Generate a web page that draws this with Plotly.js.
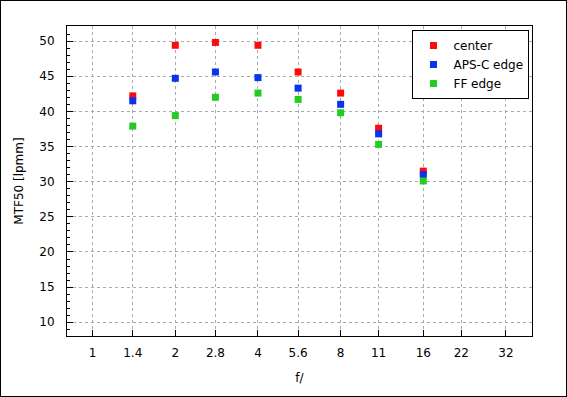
<!DOCTYPE html>
<html>
<head>
<meta charset="utf-8">
<script src="https://cdn.plot.ly/plotly-3.0.1.min.js"></script>
<style>
  body { margin: 0; padding: 0; background: #fff; }
  #wrap { position: relative; width: 567px; height: 397px; }
  #chart { position: absolute; left: 0; top: 0; width: 567px; height: 397px; }
  #border { position: absolute; left: 0; top: 0; width: 565px; height: 395px; border: 1px solid #000; pointer-events: none; }
</style>
</head>
<body>
<div id="wrap"><div id="chart"></div><div id="border"></div></div>
<script>
const fStops = [1.4, 2, 2.8, 4, 5.6, 8, 11, 16];
const tickValues = [1, 1.4, 2, 2.8, 4, 5.6, 8, 11, 16, 22, 32];
const tickLabels = ['1', '1.4', '2', '2.8', '4', '5.6', '8', '11', '16', '22', '32'];
const centerVals = [42.2, 49.4, 49.8, 49.4, 45.6, 42.6, 37.6, 31.5];
const apscVals   = [41.5, 44.7, 45.6, 44.8, 43.3, 41.0, 36.8, 31.0];
const ffVals     = [37.9, 39.4, 42.0, 42.6, 41.7, 39.8, 35.3, 30.1];

const font = {family: 'DejaVu Sans, Verdana, sans-serif', size: 12, color: '#000'};

function trace(name, y, color) {
  return {x: fStops, y: y, name: name, type: 'scatter', mode: 'markers',
    marker: {symbol: 'square', size: 7, color: color, line: {width: 0}}};
}

const data = [
  trace('center', centerVals, '#ff0a0a'),
  trace('APS-C edge', apscVals, '#0a33ee'),
  trace('FF edge', ffVals, '#22cc22')
];

const layout = {
  width: 567, height: 397,
  margin: {l: 67, r: 35, t: 26, b: 61},
  paper_bgcolor: '#fff', plot_bgcolor: '#fff',
  font: font,
  showlegend: true,
  legend: {x: 0.743, y: 0.987, xanchor: 'left', yanchor: 'top',
    bgcolor: '#fff', bordercolor: '#000', borderwidth: 1, font: font},
  xaxis: {
    type: 'log', range: [-0.0934, 1.600],
    tickmode: 'array', tickvals: tickValues, ticktext: tickLabels,
    ticks: 'inside', ticklen: 6, tickcolor: '#000',
    showline: true, linecolor: '#000', linewidth: 1, mirror: true,
    showgrid: true, gridcolor: '#aaa', griddash: '3px,3px', gridwidth: 1,
    zeroline: false, ticklabelstandoff: 6,
    title: {text: 'f/', font: font, standoff: 14}
  },
  yaxis: {
    range: [8.05, 52.14], tickmode: 'linear', tick0: 0, dtick: 5,
    ticks: 'inside', ticklen: 6, tickcolor: '#000',
    minor: {dtick: 1, ticks: 'inside', ticklen: 3, tickcolor: '#000', showgrid: false},
    showline: true, linecolor: '#000', linewidth: 1, mirror: true,
    showgrid: true, gridcolor: '#aaa', griddash: '3px,3px', gridwidth: 1,
    zeroline: false, ticklabelstandoff: 9,
    title: {text: 'MTF50 [lpmm]', font: font, standoff: 13}
  }
};

Plotly.newPlot('chart', data, layout, {displayModeBar: false, staticPlot: true});
</script>
</body>
</html>
